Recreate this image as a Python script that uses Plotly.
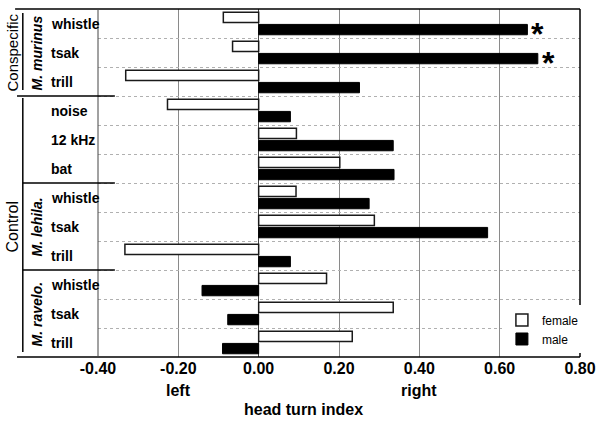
import plotly.graph_objects as go

# ---- data ----
groups = ["murinus", "murinus", "murinus",
          "control", "control", "control",
          "lehila", "lehila", "lehila",
          "ravelo", "ravelo", "ravelo"]
categories = ["whistle", "tsak", "trill",
              "noise", "12 kHz", "bat",
              "whistle", "tsak", "trill",
              "whistle", "tsak", "trill"]
female = [-0.088, -0.065, -0.331,
          -0.227, 0.094, 0.202,
          0.093, 0.288, -0.333,
          0.169, 0.335, 0.233]
male = [0.669, 0.695, 0.251,
        0.079, 0.335, 0.337,
        0.275, 0.570, 0.079,
        -0.141, -0.077, -0.090]
male_significant = [True, True, False,
                    False, False, False,
                    False, False, False,
                    False, False, False]
x_tick_vals = [-0.4, -0.2, 0.0, 0.2, 0.4, 0.6, 0.8]
x_tick_text = ["-0.40", "-0.20", "0.00", "0.20", "0.40", "0.60", "0.80"]

FONT = "Liberation Sans, Arial, sans-serif"
ids = [f"{g}|{c}" for g, c in zip(groups, categories)]
n = len(ids)

fig = go.Figure()
fig.add_trace(go.Bar(
    y=ids, x=female, orientation="h", name="female",
    marker=dict(color="white", line=dict(color="#1a1a1a", width=1.5)),
))
fig.add_trace(go.Bar(
    y=ids, x=male, orientation="h", name="male",
    marker=dict(color="black", line=dict(color="black", width=1)),
))

annotations = []
# category labels (left aligned)
for yid, lab in zip(ids, categories):
    annotations.append(dict(
        x=-0.1017, xref="paper", y=yid, yref="y", text=lab,
        xanchor="left", yanchor="middle", showarrow=False,
        font=dict(family=FONT, size=14, color="black", weight="bold")))

# species labels (rotated, bold italic)
species = [("<i>M. murinus</i>", ids[1]),
           ("<i>M. lehila.</i>", ids[7]),
           ("<i>M. ravelo.</i>", ids[10])]
for txt, yid in species:
    annotations.append(dict(
        x=-0.1266, xref="paper", y=yid, yref="y", text=txt, textangle=-90,
        xanchor="center", yanchor="middle", showarrow=False,
        font=dict(family=FONT, size=14, color="black", weight="bold")))

# big group labels
annotations.append(dict(
    x=-0.1784, xref="paper", y=ids[1], yref="y", text="Conspecific",
    textangle=-90, xanchor="center", yanchor="middle", showarrow=False,
    font=dict(family=FONT, size=15, color="black")))
annotations.append(dict(
    x=-0.1784, xref="paper", y=0.375, yref="paper", text="Control",
    textangle=-90, xanchor="center", yanchor="middle", showarrow=False,
    font=dict(family=FONT, size=16, color="black")))

# significance asterisks
for yid, v, sig in zip(ids, male, male_significant):
    if sig:
        annotations.append(dict(
            x=v, xref="x", y=yid, yref="y", text="*",
            xanchor="left", yanchor="middle", showarrow=False,
            xshift=2, yshift=-10,
            font=dict(family=FONT, size=32, color="black", weight="bold")))

# axis side labels
annotations.append(dict(x=-0.2, xref="x", y=-0.095, yref="paper", text="left",
                        xanchor="center", yanchor="middle", showarrow=False,
                        font=dict(family=FONT, size=16, color="black", weight="bold")))
annotations.append(dict(x=0.4, xref="x", y=-0.095, yref="paper", text="right",
                        xanchor="center", yanchor="middle", showarrow=False,
                        font=dict(family=FONT, size=16, color="black", weight="bold")))
annotations.append(dict(x=(303 - 98) / 482, xref="paper", y=-0.152, yref="paper",
                        text="head turn index",
                        xanchor="center", yanchor="middle", showarrow=False,
                        font=dict(family=FONT, size=16, color="black", weight="bold")))

line = dict(color="black", width=1.5)
shapes = [
    # top and bottom border extended into label area
    dict(type="line", xref="paper", yref="paper", x0=-0.172, x1=1, y0=1, y1=1, line=line),
    dict(type="line", xref="paper", yref="paper", x0=-0.168, x1=1, y0=0, y1=0, line=line),
    # right & left border of plot
    dict(type="line", xref="paper", yref="paper", x0=1, x1=1, y0=0, y1=1, line=line),
    dict(type="line", xref="paper", yref="paper", x0=0, x1=0, y0=0, y1=1,
         line=dict(color="#444", width=1)),
    # group separators
    dict(type="line", xref="paper", yref="paper", x0=-0.168, x1=0.035, y0=0.75, y1=0.75, line=line),
    dict(type="line", xref="paper", yref="paper", x0=-0.156, x1=0.035, y0=0.5, y1=0.5, line=line),
    dict(type="line", xref="paper", yref="paper", x0=-0.156, x1=0.035, y0=0.25, y1=0.25, line=line),
    # brackets
    dict(type="line", xref="paper", yref="paper", x0=-0.156, x1=-0.156, y0=0.767, y1=0.9885, line=line),
    dict(type="line", xref="paper", yref="paper", x0=-0.156, x1=-0.156, y0=0.0144, y1=0.744, line=line),
]

fig.update_layout(
    width=600, height=427,
    margin=dict(l=98, r=20, t=9, b=70, autoexpand=False),
    paper_bgcolor="white", plot_bgcolor="white",
    barmode="group", bargap=0.16, bargroupgap=0.15,
    showlegend=True,
    legend=dict(x=0.838, y=0.148, xanchor="left", yanchor="top",
                bgcolor="white", traceorder="normal", itemwidth=30,
                font=dict(family=FONT, size=12, color="black")),
    xaxis=dict(range=[-0.4, 0.8], tickvals=x_tick_vals, ticktext=x_tick_text,
               automargin=False,
               showgrid=True, gridcolor="#8a8a8a", gridwidth=1,
               zeroline=True, zerolinecolor="#444", zerolinewidth=1,
               showline=False, ticks="",
               tickfont=dict(family=FONT, size=16, color="black", weight="bold")),
    yaxis=dict(type="category", categoryorder="array", categoryarray=ids,
               range=[n - 0.5, -0.5], automargin=False,
               showticklabels=False, ticks="",
               tickson="boundaries", showgrid=True, gridcolor="#b0b0b0",
               griddash="dot", gridwidth=1, zeroline=False, showline=False),
    annotations=annotations,
    shapes=shapes,
    font=dict(family=FONT),
)

fig.write_html("out.html", config={"displayModeBar": False},
               post_script="document.body.style.margin='0';document.body.style.overflow='hidden';")
